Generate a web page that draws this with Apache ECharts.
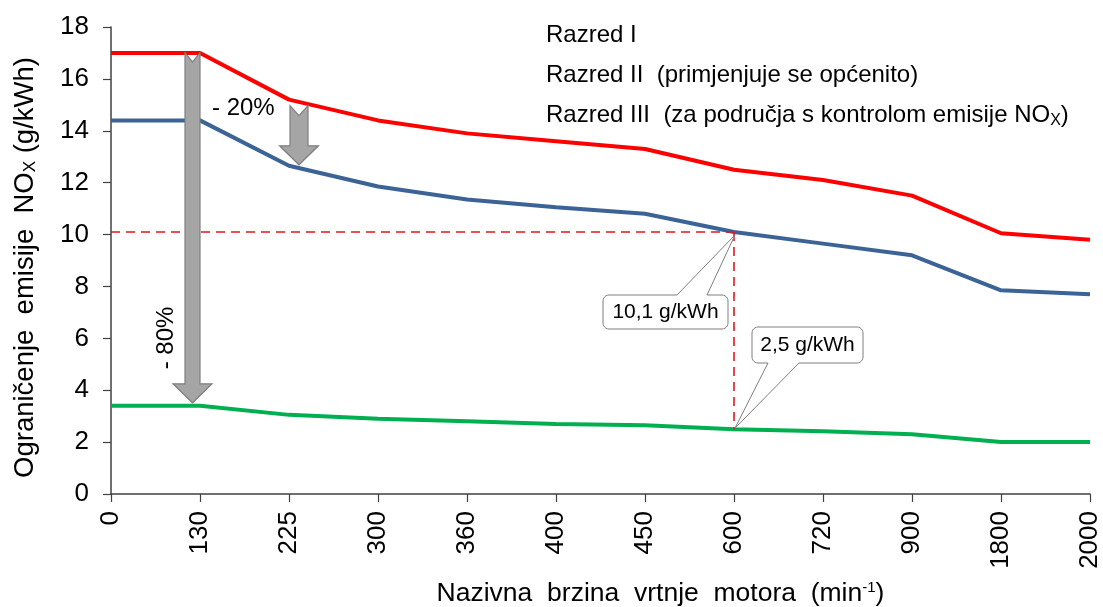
<!DOCTYPE html>
<html>
<head>
<meta charset="utf-8">
<script src="https://cdn.jsdelivr.net/npm/echarts@6/dist/echarts.min.js"></script>
<style>html,body{margin:0;padding:0;background:#fff}#c{width:1103px;height:607px}</style>
</head>
<body>
<div id="c"></div>
<script>
const categories = ['0','130','225','300','360','400','450','600','720','900','1800','2000'];
const razredI   = [17, 17, 15.2, 14.4, 13.9, 13.6, 13.3, 12.5, 12.1, 11.5, 10.05, 9.8];
const razredII  = [14.4, 14.4, 12.65, 11.85, 11.35, 11.05, 10.8, 10.1, 9.65, 9.2, 7.85, 7.7];
const razredIII = [3.4, 3.4, 3.05, 2.9, 2.8, 2.7, 2.65, 2.5, 2.42, 2.3, 2.0, 2.0];
const seriesNames = ['Razred I', 'Razred II  (primjenjuje se općenito)', 'Razred III  (za područja s kontrolom emisije NO_X)'];
const yTicks = {min: 0, max: 18, interval: 2};
const callout1 = '10,1 g/kWh';
const callout2 = '2,5 g/kWh';

const FONT = '"Liberation Sans", Arial, sans-serif';
const chart = echarts.init(document.getElementById('c'));

chart.setOption({
  animation: false,
  backgroundColor: '#fff',
  textStyle: {fontFamily: FONT},
  grid: {left: 111, right: 13, top: 27, bottom: 113, containLabel: false, outerBoundsMode: 'none'},
  legend: {
    orient: 'vertical', left: 536, top: 18, icon: 'none', itemWidth: 0, itemHeight: 24, itemGap: 16,
    selectedMode: false,
    textStyle: {fontSize: 24, color: '#000', fontFamily: FONT,
      rich: {
        n: {fontSize: 24, fontFamily: FONT, color: '#000'},
        sub: {fontSize: 16, fontFamily: FONT, color: '#000', verticalAlign: 'bottom', padding: [11,0,0,0]}}},
    formatter: function (name) {
      if (name.indexOf('NO_X') >= 0) {
        const parts = name.split('NO_X');
        return '{n|' + parts[0] + 'NO}{sub|X}{n|' + parts[1] + '}';
      }
      return '{n|' + name + '}';
    },
    data: seriesNames
  },
  xAxis: {
    type: 'category', data: categories, boundaryGap: false,
    name: '{n|Nazivna  brzina  vrtnje  motora  (min}{sup|-1}{n|)}',
    nameLocation: 'middle', nameGap: 86,
    nameTextStyle: {padding: [0, 0, 0, 120], rich: {n: {fontSize: 26.5, fontFamily: FONT, color: '#000'}, sup: {fontSize: 15, fontFamily: FONT, color: '#000', verticalAlign: 'top', padding: [0,0,11,0]}}},
    axisLine: {lineStyle: {color: '#404040', width: 1.5}},
    axisTick: {show: true, alignWithLabel: true, length: 8, lineStyle: {color: '#404040', width: 1.2}},
    axisLabel: {rotate: 90, fontSize: 26, color: '#000', margin: 17, fontFamily: FONT},
    splitLine: {show: false}
  },
  yAxis: {
    type: 'value', min: yTicks.min, max: yTicks.max, interval: yTicks.interval,
    name: '{n|Ograničenje  emisije  NO}{sub|X}{n| (g/kWh)}',
    nameLocation: 'middle', nameGap: 72, nameRotate: 90,
    nameTextStyle: {padding: [0, 14, 0, 0], rich: {n: {fontSize: 27.5, fontFamily: FONT, color: '#000'}, sub: {fontSize: 17, fontFamily: FONT, color: '#000', verticalAlign: 'bottom', padding: [11,0,0,0]}}},
    axisLine: {show: true, lineStyle: {color: '#404040', width: 1.5}},
    axisTick: {show: true, length: 8, lineStyle: {color: '#404040', width: 1.2}},
    axisLabel: {fontSize: 26, color: '#000', margin: 22, fontFamily: FONT},
    splitLine: {show: false}
  },
  series: [
    {name: seriesNames[0], type: 'line', data: razredI, showSymbol: false, lineStyle: {color: '#ff0000', width: 4}, itemStyle: {color: '#ff0000'}, z: 3},
    {name: seriesNames[1], type: 'line', data: razredII, showSymbol: false, lineStyle: {color: '#3b6396', width: 4}, itemStyle: {color: '#3b6396'}, z: 3,
      markLine: {silent: true, symbol: 'none', label: {show: false},
        lineStyle: {color: '#e0191e', width: 1.6, type: [9, 6]},
        data: [
          [{coord: ['0', 10.1]}, {coord: ['600', 10.1]}],
          [{coord: ['600', 10.1]}, {coord: ['600', 2.5]}]
        ]}},
    {name: seriesNames[2], type: 'line', data: razredIII, showSymbol: false, lineStyle: {color: '#00b050', width: 4}, itemStyle: {color: '#00b050'}, z: 3}
  ]
});

function arrow(cx, top, notch, hw, headY, HW, tip) {
  return {type: 'polygon', z: 10,
    shape: {points: [[cx-hw, top],[cx, top+notch],[cx+hw, top],[cx+hw, headY],[cx+HW, headY],[cx, tip],[cx-HW, headY],[cx-hw, headY]]},
    style: {fill: '#a5a5a5', stroke: '#7f7f7f', lineWidth: 1.2}};
}
function corner(pts, cx, cy, r, a0) {
  for (let i = 0; i <= 6; i++) {
    const a = a0 + (Math.PI / 2) * i / 6;
    pts.push([cx + r * Math.cos(a), cy + r * Math.sin(a)]);
  }
}
function calloutPoints(x, y, w, h, r, p1, p2, tx, ty, top) {
  const pts = [];
  corner(pts, x + r, y + r, r, Math.PI);
  if (top) { pts.push([p1, y], [tx, ty], [p2, y]); }
  corner(pts, x + w - r, y + r, r, -Math.PI / 2);
  corner(pts, x + w - r, y + h - r, r, 0);
  if (!top) { pts.push([p2, y + h], [tx, ty], [p1, y + h]); }
  corner(pts, x + r, y + h - r, r, Math.PI / 2);
  return pts;
}

const p130 = chart.convertToPixel({gridIndex: 0}, ['130', razredI[1]]);
const p130b = chart.convertToPixel({gridIndex: 0}, ['130', razredIII[1]]);
const p225a = chart.convertToPixel({gridIndex: 0}, ['225', razredI[2]]);
const p225b = chart.convertToPixel({gridIndex: 0}, ['225', razredII[2]]);
const t1 = chart.convertToPixel({gridIndex: 0}, ['600', razredII[7]]);
const t2 = chart.convertToPixel({gridIndex: 0}, ['600', razredIII[7]]);

const bx = p130[0] - 7.5;
const sx = p225a[0] + 10;
const graphics = [
  arrow(bx, p130[1], 9, 7.5, p130b[1] - 22, 19.5, p130b[1] - 3),
  arrow(sx, p225a[1] + 6, 10, 9, p225b[1] - 20, 19.5, p225b[1] - 1),
  {type: 'text', z: 11, x: 212, y: 108, style: {text: '- 20%', font: '24px ' + FONT, fill: '#000', verticalAlign: 'middle'}},
  {type: 'text', z: 11, x: 166, y: 338, rotation: Math.PI / 2, style: {text: '- 80%', font: '24px ' + FONT, fill: '#000', align: 'center', verticalAlign: 'middle'}},
  {type: 'polygon', z: 12, shape: {points: calloutPoints(603, 295, 125, 34, 6, 677, 707, t1[0] + 1, t1[1] + 3, true)},
    style: {fill: '#fff', stroke: '#7f7f7f', lineWidth: 1}},
  {type: 'text', z: 13, x: 665.5, y: 312.5, style: {text: callout1, font: '21px ' + FONT, fill: '#000', align: 'center', verticalAlign: 'middle'}},
  {type: 'polygon', z: 12, shape: {points: calloutPoints(752, 327, 111, 36, 6, 768, 799, t2[0] + 1, t2[1] - 1, false)},
    style: {fill: '#fff', stroke: '#7f7f7f', lineWidth: 1}},
  {type: 'text', z: 13, x: 807.5, y: 345.5, style: {text: callout2, font: '21px ' + FONT, fill: '#000', align: 'center', verticalAlign: 'middle'}}
];
chart.setOption({graphic: graphics});
</script>
</body>
</html>
